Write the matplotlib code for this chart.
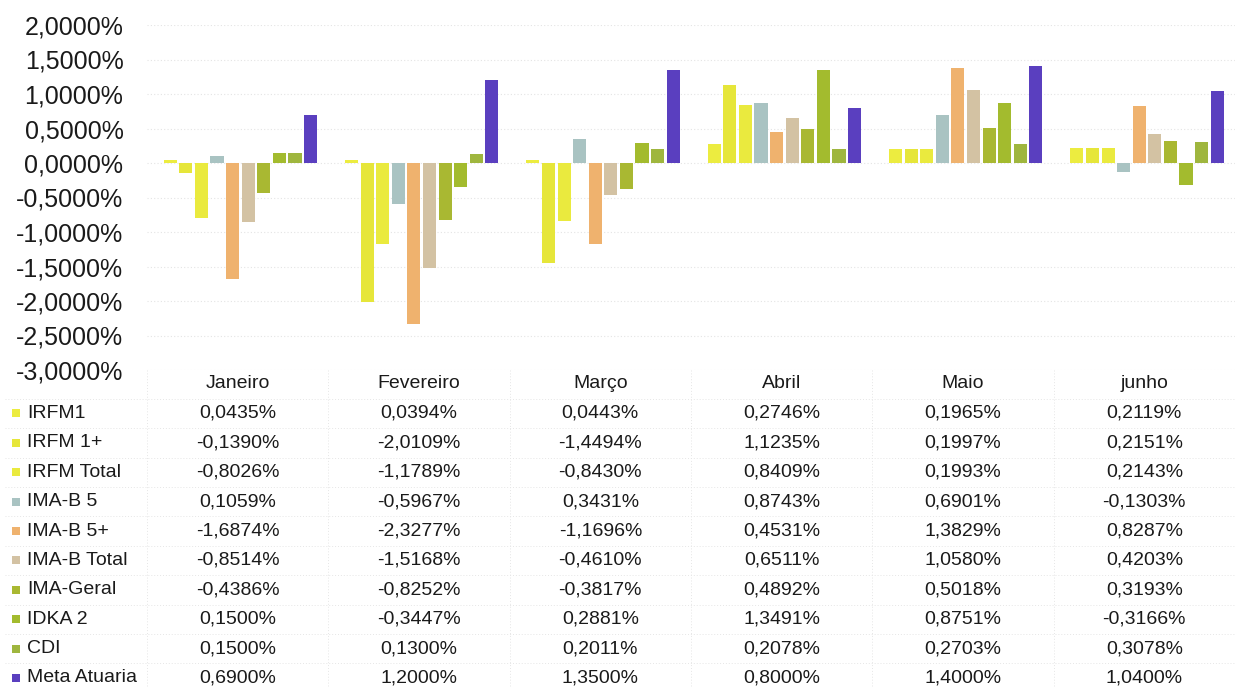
import matplotlib
matplotlib.use("Agg")
import matplotlib.pyplot as plt
import numpy as np

months = ["Janeiro", "Fevereiro", "Março", "Abril", "Maio", "junho"]
series_names = ["IRFM1", "IRFM 1+", "IRFM Total", "IMA-B 5", "IMA-B 5+", "IMA-B Total",
                "IMA-Geral", "IDKA 2", "CDI", "Meta Atuaria"]
irfm1 = [0.0435, 0.0394, 0.0443, 0.2746, 0.1965, 0.2119]
irfm1p = [-0.1390, -2.0109, -1.4494, 1.1235, 0.1997, 0.2151]
irfm_total = [-0.8026, -1.1789, -0.8430, 0.8409, 0.1993, 0.2143]
imab5 = [0.1059, -0.5967, 0.3431, 0.8743, 0.6901, -0.1303]
imab5p = [-1.6874, -2.3277, -1.1696, 0.4531, 1.3829, 0.8287]
imab_total = [-0.8514, -1.5168, -0.4610, 0.6511, 1.0580, 0.4203]
ima_geral = [-0.4386, -0.8252, -0.3817, 0.4892, 0.5018, 0.3193]
idka2 = [0.1500, -0.3447, 0.2881, 1.3491, 0.8751, -0.3166]
cdi = [0.1500, 0.1300, 0.2011, 0.2078, 0.2703, 0.3078]
meta = [0.6900, 1.2000, 1.3500, 0.8000, 1.4000, 1.0400]
series = [irfm1, irfm1p, irfm_total, imab5, imab5p, imab_total, ima_geral, idka2, cdi, meta]
yticks = [2.0, 1.5, 1.0, 0.5, 0.0, -0.5, -1.0, -1.5, -2.0, -2.5, -3.0]

colors = ["#ecec40", "#e6e63a", "#eaea3e", "#a9c3c2", "#efb26e", "#d3c2a3",
          "#a9b832", "#a3bb2e", "#9fb63e", "#5a3fbf"]

def fmt(v):
    return ("%.4f%%" % v).replace(".", ",")

plt.rcParams['font.family'] = ['Liberation Sans', 'DejaVu Sans']
W, H = 1235, 688
fig = plt.figure(figsize=(W/100, H/100), dpi=100)
fig.patch.set_facecolor("white")

x0, x1 = 147, 1235
ytop, ybot = 25, 370
ax = fig.add_axes([x0/W, 1 - ybot/H, (x1 - x0)/W, (ybot - ytop)/H])
ax.set_xlim(-0.5, 5.5)
ax.set_ylim(-3.0, 2.0)
ax.set_facecolor("none")
for s in ax.spines.values():
    s.set_visible(False)
ax.set_xticks([])
ax.set_yticks(yticks)
ax.set_yticklabels([fmt(v) for v in yticks], fontsize=18, color="#1a1a1a")
ax.tick_params(axis="y", length=0, pad=17)
ax.yaxis.grid(True, color="#e4e4e4", linestyle=(0, (1, 2)), linewidth=0.8)
ax.set_axisbelow(True)

x = np.arange(len(months))
n = len(series)
slot = 0.86 / n
bw = slot * 0.84
for i, (vals, c) in enumerate(zip(series, colors)):
    offs = (i - (n - 1) / 2) * slot
    ax.bar(x + offs + 0.015, vals, width=bw, color=c, edgecolor="none", zorder=3)

# table
tax = fig.add_axes([0, 0, 1, 1 - ybot/H])
tax.set_xlim(0, W)
tax.set_ylim(H, ybot)
tax.axis("off")
col_w = (x1 - x0) / 6
header_y = 384
row_h = 29.4
for j, m in enumerate(months):
    tax.text(x0 + col_w * (j + 0.5), header_y, m, ha="center", va="center",
             fontsize=14, color="#1a1a1a")
for i, name in enumerate(series_names):
    yy = header_y + row_h * (i + 1)
    tax.add_patch(plt.Rectangle((12, yy - 4), 8, 8, color=colors[i], lw=0))
    tax.text(27, yy, name, ha="left", va="center", fontsize=14, color="#1a1a1a")
    for j in range(6):
        tax.text(x0 + col_w * (j + 0.5), yy, fmt(series[i][j]), ha="center",
                 va="center", fontsize=14, color="#1a1a1a")
for i in range(len(series_names) + 1):
    yl = header_y + row_h * (i + 0.5)
    tax.plot([5, W], [yl, yl], color="#e6e6e6", lw=0.7, ls=(0, (1, 2)))
for j in range(7):
    xl = x0 + col_w * j
    tax.plot([xl, xl], [ybot, H], color="#e6e6e6", lw=0.7, ls=(0, (1, 2)))

fig.savefig("out.png", dpi=100, facecolor="white")
